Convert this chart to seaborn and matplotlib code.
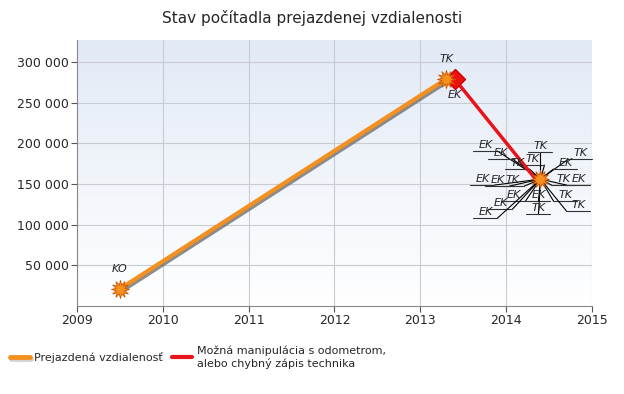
import numpy as np
import pandas as pd
import seaborn as sns
import matplotlib.pyplot as plt
import matplotlib.patheffects as pe
from matplotlib.transforms import IdentityTransform
from matplotlib.lines import Line2D
from matplotlib.ticker import FuncFormatter

# odometer records (year as decimal, km)
dist_year = [2009.50, 2013.30]
dist_km = [21000, 279000]
dist_label = ['KO', 'TK']

manip_year = [2013.40, 2014.35]
manip_km = [279000, 155000]

cluster_year = 2014.40
cluster_km = 156000

# labels around the cluster of later records
cluster_labels = ['EK', 'EK', 'TK', 'TK', 'TK', 'TK', 'EK', 'TK', 'EK', 'EK',
                  'EK', 'TK', 'EK', 'EK', 'EK', 'EK', 'TK', 'TK', 'TK']
# pixel offsets of each label from the cluster point (x right, y down)
label_dx = [-55, -40, -23, -8, 0, 40, 25, 23, 38, -58, -43, -28, -27, -40, -55, -2, -2, 25, 38]
label_dy = [-35, -27, -17, -21, -34, -27, -17, -1, -1, -1, 0, 0, 15, 23, 32, 15, 28, 15, 25]

sns.set_style('white')
plt.rcParams['font.family'] = ['DejaVu Sans']

fig = plt.figure(figsize=(6.24, 3.94), dpi=100)
ax = fig.add_axes([0.1234, 0.2234, 0.8253, 0.6751])

ax.set_xlim(2009, 2015)
ax.set_ylim(0, 327000)

# gradient background
grad = np.linspace(0, 1, 256).reshape(-1, 1)
cmap = sns.blend_palette(['#ffffff', '#e2eaf6'], as_cmap=True)
ax.imshow(grad, extent=[2009, 2015, 0, 327000], aspect='auto', origin='lower',
          cmap=cmap, zorder=0)

ax.set_xticks(range(2009, 2016))
ax.set_yticks(range(50000, 300001, 50000))
ax.yaxis.set_major_formatter(FuncFormatter(lambda v, p: f'{int(v):,}'.replace(',', ' ')))
ax.grid(True, color='#c8ccd2', lw=0.8, zorder=1)
ax.set_axisbelow(True)
for s in ['top', 'right']:
    ax.spines[s].set_visible(False)
for s in ['left', 'bottom']:
    ax.spines[s].set_color('#888888')
ax.tick_params(axis='both', which='both', length=4, width=0.8, color='#555555',
               labelsize=9, direction='out', left=True, bottom=True, pad=2)

df = pd.DataFrame({'year': dist_year, 'km': dist_km})
sns.lineplot(data=df, x='year', y='km', ax=ax, color='#f39020', lw=3, sort=False,
             zorder=4, path_effects=[pe.SimpleLineShadow(offset=(1.2, -1.5), shadow_color='#707070', alpha=0.8),
                                     pe.Normal()])

dm = pd.DataFrame({'year': manip_year, 'km': manip_km})
sns.lineplot(data=dm, x='year', y='km', ax=ax, color='#e8141c', lw=2.5, sort=False, zorder=5)
ax.plot(manip_year[0], manip_km[0], marker='D', ms=10, color='#ee1111', zorder=6,
        markeredgecolor='#cc0000')

stars = pd.DataFrame({'year': dist_year + [cluster_year], 'km': dist_km + [cluster_km]})
sns.scatterplot(data=stars, x='year', y='km', ax=ax, marker=(12, 1, 0), s=170,
                color='#f7901e', edgecolor='#cc5500', linewidth=0.6, zorder=7)

ax.set_xlabel('')
ax.set_ylabel('')

# labels
for yr, km, lab in zip(dist_year, dist_km, dist_label):
    ax.annotate(lab, (yr, km), xytext=(0, 11), textcoords='offset points', ha='center',
                va='bottom', fontsize=8, style='italic', color='#222222')
ax.annotate('EK', (manip_year[0], manip_km[0]), xytext=(0, -8), textcoords='offset points',
            ha='center', va='top', fontsize=8, style='italic', color='#222222')

# cluster labels with underline and leader line (pixel coordinates)
px, py = ax.transData.transform((cluster_year, cluster_km))
for lab, dx, dy in zip(cluster_labels, label_dx, label_dy):
    ux0, ux1 = px + dx - 12, px + dx + 12
    uy = py - dy - 7
    end = ux0 if dx >= 0 else ux1
    if abs(dx) < 5:
        end = px + dx
    ax.plot([px, end], [py, uy], color='black', lw=0.8, transform=IdentityTransform(),
            zorder=3, clip_on=False)
    ax.plot([ux0, ux1], [uy, uy], color='#333333', lw=0.8, transform=IdentityTransform(),
            zorder=3, clip_on=False)
    ax.text(px + dx, uy + 1, lab, transform=IdentityTransform(), ha='center', va='bottom',
            fontsize=8, style='italic', color='#222222', zorder=8)

fig.suptitle('Stav počítadla prejazdenej vzdialenosti', x=0.5, y=0.975, fontsize=11)

handles = [Line2D([], [], color='#f39020', lw=3.5,
                  path_effects=[pe.SimpleLineShadow(offset=(1, -1), shadow_color='#707070'), pe.Normal()]),
           Line2D([], [], color='#e8141c', lw=3)]
fig.legend(handles, ['Prejazdená vzdialenosť', 'Možná manipulácia s odometrom,\nalebo chybný zápis technika'],
           loc='upper left', bbox_to_anchor=(0.0, 0.148), ncol=2, frameon=False, fontsize=8,
           handlelength=1.8, handletextpad=0.4, columnspacing=0.8)

fig.savefig('out.png', dpi=100)
